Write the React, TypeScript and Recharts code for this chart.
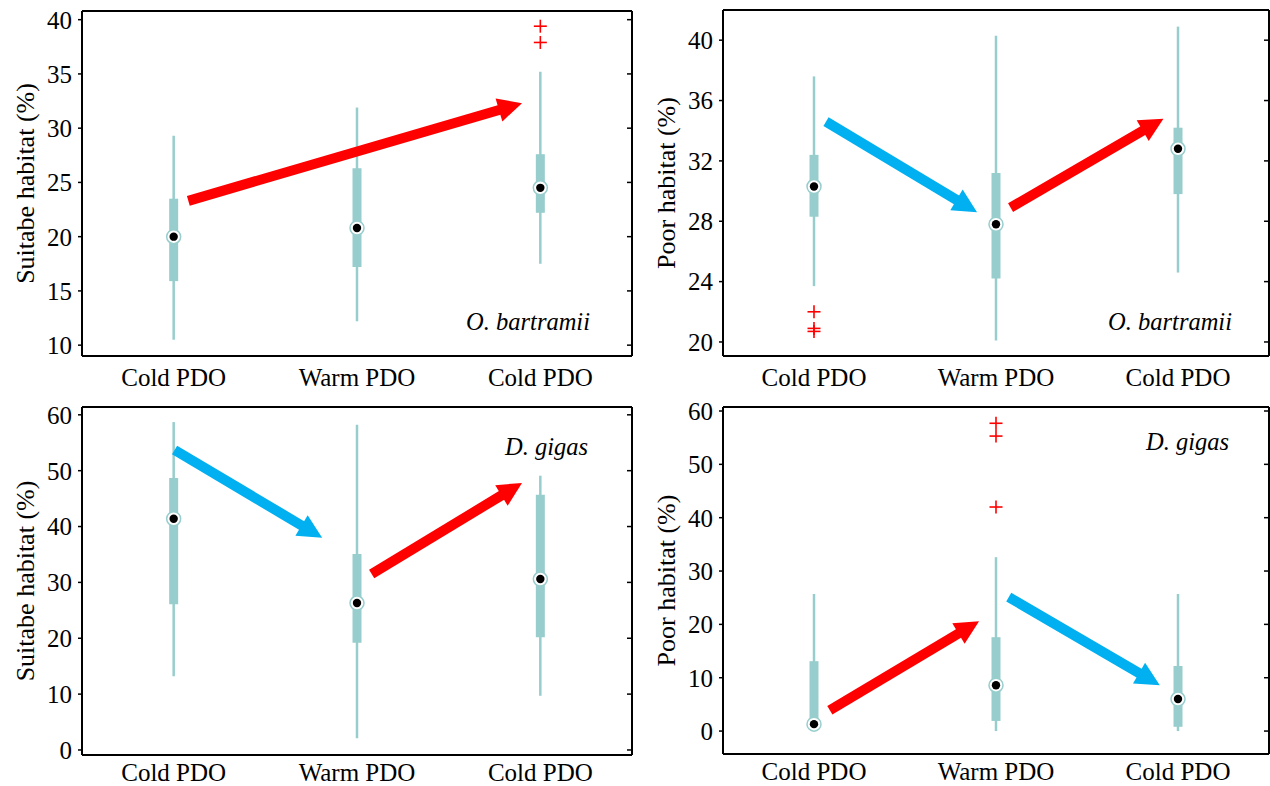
import React from 'react';
import { ComposedChart, Scatter, ErrorBar, XAxis, YAxis, ReferenceLine } from 'recharts';

const FONT = '"Liberation Serif", "Times New Roman", serif';
const TEAL = '#98cdcd';
const RED = '#ff0000';
const BLUE = '#00b0f0';

const categories = ['Cold PDO', 'Warm PDO', 'Cold PDO'];
const positions = [1, 2, 3];

// O. bartramii, suitable habitat
const aMin = [10.5, 12.2, 17.5];
const aQ1 = [15.9, 17.2, 22.2];
const aMed = [20.0, 20.8, 24.5];
const aQ3 = [23.5, 26.3, 27.6];
const aMax = [29.3, 31.9, 35.2];
const aOutX = [3, 3];
const aOutY = [39.4, 37.9];
const aTicks = [10, 15, 20, 25, 30, 35, 40];
const aArrowFrom = [[1.08, 23.3]];
const aArrowTo = [[2.9, 32.3]];

// O. bartramii, poor habitat
const bMin = [23.7, 20.1, 24.6];
const bQ1 = [28.3, 24.2, 29.8];
const bMed = [30.3, 27.8, 32.8];
const bQ3 = [32.4, 31.2, 34.2];
const bMax = [37.6, 40.3, 40.9];
const bOutX = [1, 1, 1];
const bOutY = [22.0, 20.9, 20.7];
const bTicks = [20, 24, 28, 32, 36, 40];
const bArrowFrom = [[1.066, 34.6], [2.08, 28.9]];
const bArrowTo = [[1.896, 28.6], [2.92, 34.8]];

// D. gigas, suitable habitat
const cMin = [13.2, 2.1, 9.7];
const cQ1 = [26.1, 19.2, 20.2];
const cMed = [41.4, 26.3, 30.6];
const cQ3 = [48.7, 35.1, 45.7];
const cMax = [58.7, 58.2, 49.1];
const cOutX: number[] = [];
const cOutY: number[] = [];
const cTicks = [0, 10, 20, 30, 40, 50, 60];
const cArrowFrom = [[1.005, 53.7], [2.08, 31.5]];
const cArrowTo = [[1.81, 38.0], [2.9, 47.8]];

// D. gigas, poor habitat
const dMin = [0, 0, 0];
const dQ1 = [0.3, 1.9, 0.8];
const dMed = [1.3, 8.6, 6.0];
const dQ3 = [13.1, 17.6, 12.2];
const dMax = [25.7, 32.6, 25.7];
const dOutX = [2, 2, 2];
const dOutY = [57.7, 55.3, 42.0];
const dTicks = [0, 10, 20, 30, 40, 50, 60];
const dArrowFrom = [[1.087, 3.9], [2.07, 25.1]];
const dArrowTo = [[1.907, 20.6], [2.9, 8.6]];

function buildBoxes(min: number[], q1: number[], med: number[], q3: number[], max: number[]) {
  return positions.map((x, i) => ({
    x,
    med: med[i],
    whisker: [med[i] - min[i], max[i] - med[i]],
    box: [med[i] - q1[i], q3[i] - med[i]],
  }));
}

function buildOutliers(xs: number[], ys: number[]) {
  return xs.map((x, i) => ({ x, y: ys[i] }));
}

const MedianDot = (props: any) => {
  const { cx, cy } = props;
  return (
    <g>
      <circle cx={cx} cy={cy} r={7} fill="#fff" stroke={TEAL} strokeWidth={1.5} />
      <circle cx={cx} cy={cy} r={4.2} fill="#000" />
    </g>
  );
};

const Cross = (props: any) => {
  const { cx, cy } = props;
  return (
    <g stroke={RED} strokeWidth={1.6}>
      <line x1={cx - 6.5} x2={cx + 6.5} y1={cy} y2={cy} />
      <line x1={cx} x2={cx} y1={cy - 6.5} y2={cy + 6.5} />
    </g>
  );
};

const arrowShape = (color: string) => (p: any) => {
  const { x1, y1, x2, y2 } = p;
  const dx = x2 - x1;
  const dy = y2 - y1;
  const len = Math.hypot(dx, dy) || 1;
  const ux = dx / len;
  const uy = dy / len;
  const head = 24;
  const half = 12;
  const bx = x2 - ux * head;
  const by = y2 - uy * head;
  return (
    <g>
      <line x1={x1} y1={y1} x2={bx + ux} y2={by + uy} stroke={color} strokeWidth={10} />
      <polygon
        points={`${x2},${y2} ${bx - uy * half},${by + ux * half} ${bx + uy * half},${by - ux * half}`}
        fill={color}
      />
    </g>
  );
};

const AX = { stroke: '#000', strokeWidth: 2 };
const TL = { stroke: '#000', strokeWidth: 1.5 };
const tickStyle = { fontFamily: FONT, fontSize: 25, fill: '#000' };
const blank = () => '';

function Panel(props: any) {
  const { left, top, width, height, margin, yLabel, domain, ticks, yWidth, xGap, boxes, outliers, from, to } = props;
  return (
    <div style={{ position: 'absolute', left, top }}>
      <ComposedChart width={width} height={height} margin={margin}>
        <XAxis xAxisId="top" orientation="top" type="number" domain={[0.5, 3.5]} allowDataOverflow
          ticks={positions} interval={0} mirror height={1} tickFormatter={blank} tickSize={5}
          axisLine={AX} tickLine={TL} />
        <XAxis dataKey="x" type="number" domain={[0.5, 3.5]} ticks={positions} interval={0}
          tickFormatter={(v: number) => categories[v - 1]} tickLine={false} tickSize={0} tickMargin={xGap}
          height={30} axisLine={AX} tick={tickStyle} />
        <XAxis xAxisId="inner" type="number" domain={[0.5, 3.5]} allowDataOverflow ticks={positions}
          interval={0} mirror height={1} tickFormatter={blank} tickSize={5} axisLine={false} tickLine={TL} />
        <YAxis type="number" domain={domain} ticks={ticks} interval={0} width={yWidth} tickSize={4}
          tickMargin={6} axisLine={AX} tickLine={TL} tick={tickStyle}
          label={{ value: yLabel, angle: -90, position: 'center', dx: -16,
            style: { fontFamily: FONT, fontSize: 26, fill: '#000' } }} />
        <YAxis yAxisId="right" orientation="right" type="number" domain={domain} allowDataOverflow
          ticks={ticks} interval={0} mirror width={1} tickFormatter={blank} tickSize={5}
          axisLine={AX} tickLine={TL} />
        <Scatter data={boxes} dataKey="med" shape={MedianDot} isAnimationActive={false}>
          <ErrorBar dataKey="whisker" direction="y" width={0} stroke={TEAL} strokeWidth={2.5} />
          <ErrorBar dataKey="box" direction="y" width={0} stroke={TEAL} strokeWidth={9} />
        </Scatter>
        {outliers.length > 0 && (
          <Scatter data={outliers} dataKey="y" shape={Cross} isAnimationActive={false} />
        )}
        {from.map((f: number[], i: number) => {
          const t = to[i];
          const color = t[1] > f[1] ? RED : BLUE;
          return (
            <ReferenceLine key={i} segment={[{ x: f[0], y: f[1] }, { x: t[0], y: t[1] }]}
              ifOverflow="visible" shape={arrowShape(color)} />
          );
        })}
      </ComposedChart>
    </div>
  );
}

export default function App() {
  return (
    <div style={{ position: 'absolute', left: 0, top: 0, width: 1270, height: 786, background: '#fff' }}>
      <Panel left={0} top={0} width={640} height={393} margin={{ top: 11, right: 8, bottom: 7, left: 0 }}
        yWidth={82} xGap={12} yLabel="Suitabe habitat (%)" domain={[9, 40.8]} ticks={aTicks}
        boxes={buildBoxes(aMin, aQ1, aMed, aQ3, aMax)} outliers={buildOutliers(aOutX, aOutY)}
        from={aArrowFrom} to={aArrowTo} />
      <Panel left={640} top={0} width={630} height={393} margin={{ top: 10, right: 1, bottom: 7, left: 0 }}
        yWidth={83} xGap={12} yLabel="Poor habitat (%)" domain={[19.07, 42]} ticks={bTicks}
        boxes={buildBoxes(bMin, bQ1, bMed, bQ3, bMax)} outliers={buildOutliers(bOutX, bOutY)}
        from={bArrowFrom} to={bArrowTo} />
      <Panel left={0} top={393} width={640} height={393} margin={{ top: 14, right: 8, bottom: 1, left: 0 }}
        yWidth={82} xGap={8} yLabel="Suitabe habitat (%)" domain={[-0.9, 61.4]} ticks={cTicks}
        boxes={buildBoxes(cMin, cQ1, cMed, cQ3, cMax)} outliers={buildOutliers(cOutX, cOutY)}
        from={cArrowFrom} to={cArrowTo} />
      <Panel left={640} top={393} width={630} height={393} margin={{ top: 14, right: 1, bottom: 2, left: 0 }}
        yWidth={83} xGap={8} yLabel="Poor habitat (%)" domain={[-4.3, 60.75]} ticks={dTicks}
        boxes={buildBoxes(dMin, dQ1, dMed, dQ3, dMax)} outliers={buildOutliers(dOutX, dOutY)}
        from={dArrowFrom} to={dArrowTo} />
      <svg width={1270} height={786} style={{ position: 'absolute', left: 0, top: 0, pointerEvents: 'none' }}>
        <g fontFamily={FONT} fontSize={24.5} fontStyle="italic" textAnchor="end" fill="#000">
          <text x={590} y={330}>O. bartramii</text>
          <text x={1232} y={330}>O. bartramii</text>
          <text x={588} y={455}>D. gigas</text>
          <text x={1229} y={450}>D. gigas</text>
        </g>
      </svg>
    </div>
  );
}
